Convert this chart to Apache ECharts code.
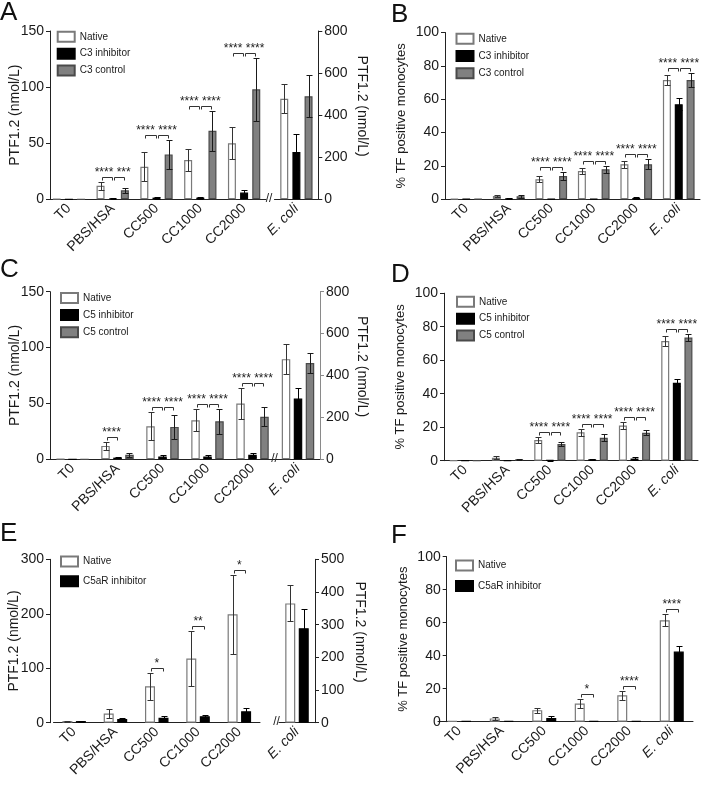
<!DOCTYPE html>
<html><head><meta charset="utf-8">
<script src="https://cdn.jsdelivr.net/npm/echarts@6/dist/echarts.min.js"></script>
<style>html,body{margin:0;padding:0;background:#fff}#c{width:701px;height:800px}</style>
</head><body><div id="c"></div>
<script>
const categories = ['T0', 'PBS/HSA', 'CC500', 'CC1000', 'CC2000', 'E. coli'];

// Panel A – PTF1.2 (nmol/L); the E. coli group is read on the right axis
const aNative   = [0.3, 12, 29, 35, 50, 478];
const aNativeSd = [0, 3.5, 13, 10, 14, 70];
const aInhib    = [0, 1, 1.5, 1.5, 6, 225];
const aInhibSd  = [0, 0.5, 0.8, 0.8, 2.4, 87];
const aCtrl     = [0, 8, 40, 61, 98, 490];
const aCtrlSd   = [0, 2, 13, 18, 28, 100];
const aSig1     = ['', '****', '****', '****', '****', ''];
const aSig2     = ['', '***', '****', '****', '****', ''];
const aLeftTicks  = [0, 50, 100, 150];
const aRightTicks = [0, 200, 400, 600, 800];

// Panel B – % TF positive monocytes
const bNative   = [0.3, 2, 12, 17, 21, 71.5];
const bNativeSd = [0, 0.8, 1.8, 2, 2, 2.8];
const bInhib    = [0.2, 0.5, 0.2, 0.3, 0.8, 57];
const bInhibSd  = [0, 0.3, 0, 0, 0.4, 3.5];
const bCtrl     = [0.2, 1.8, 14, 18, 21, 71.5];
const bCtrlSd   = [0, 1, 2.5, 2, 3, 4];
const bSig1     = ['', '', '****', '****', '****', '****'];
const bSig2     = ['', '', '****', '****', '****', '****'];
const bTicks    = [0, 20, 40, 60, 80, 100];

// Panel C – PTF1.2 (nmol/L); E. coli on the right axis
const cNative   = [0.3, 12, 29.5, 35, 50, 478];
const cNativeSd = [0, 3.5, 12.5, 10, 14, 72];
const cInhib    = [0, 1.5, 2.5, 2.5, 4, 290];
const cInhibSd  = [0, 0.7, 1.2, 1.5, 2, 48];
const cCtrl     = [0, 4, 29, 34, 38, 460];
const cCtrlSd   = [0, 1.5, 10.5, 11, 8.5, 47];
const cSig1     = ['', '****', '****', '****', '****', ''];
const cSig2     = ['', '', '****', '****', '****', ''];
const cLeftTicks  = [0, 50, 100, 150];
const cRightTicks = [0, 200, 400, 600, 800];

// Panel D – % TF positive monocytes
const dNative   = [0.2, 1.8, 12.3, 17, 21, 71.5];
const dNativeSd = [0, 0.8, 1.8, 2, 2, 2.8];
const dInhib    = [0, 0.2, 0.3, 0.8, 1.3, 46.5];
const dInhibSd  = [0, 0, 0.2, 0.4, 0.8, 2];
const dCtrl     = [0, 0.8, 10, 13.7, 16.7, 73.5];
const dCtrlSd   = [0, 0.5, 1.3, 2.2, 1.5, 2];
const dSig1     = ['', '', '****', '****', '****', '****'];
const dSig2     = ['', '', '****', '****', '****', '****'];
const dTicks    = [0, 20, 40, 60, 80, 100];

// Panel E – PTF1.2 (nmol/L); E. coli on the right axis
const eNative   = [3, 17, 67, 118, 199, 365];
const eNativeSd = [0.8, 8, 25, 50, 72, 55];
const eInhib    = [3, 7, 9, 12, 21, 289];
const eInhibSd  = [0.8, 1.5, 3, 3, 6, 59];
const eSig1     = ['', '', '*', '**', '*', ''];
const eLeftTicks  = [0, 100, 200, 300];
const eRightTicks = [0, 100, 200, 300, 400, 500];

// Panel F – % TF positive monocytes
const fNative   = [0.3, 2, 7, 11, 16, 61.5];
const fNativeSd = [0, 0.7, 1.5, 2.5, 2.8, 3.8];
const fInhib    = [0.3, 0.5, 2.3, 0.5, 0.5, 42.5];
const fInhibSd  = [0, 0.2, 1, 0.2, 0.2, 3.5];
const fSig1     = ['', '', '', '*', '****', '****'];
const fTicks    = [0, 20, 40, 60, 80, 100];

const FONT = '"Liberation Sans", Arial, Helvetica, sans-serif';
const TXT = '#1a1a1a';
const STY = {
  native: { color: '#ffffff', borderColor: '#7a7a7a', err: '#333333' },
  inhib:  { color: '#000000', borderColor: '#000000', err: '#000000' },
  ctrl:   { color: '#808080', borderColor: '#4a4a4a', err: '#1a1a1a' }
};

const option = {
  animation: false, backgroundColor: '#ffffff',
  textStyle: { fontFamily: FONT },
  grid: [], xAxis: [], yAxis: [], series: [], legend: [], graphic: []
};

function errRender(off, color) {
  return function (params, api) {
    const k = api.value(0), m = api.value(1), s = api.value(2);
    if (!(s > 0)) return;
    const x = Math.round(api.coord([k, m])[0] + off) + 0.5;
    const yT = Math.round(api.coord([k, m + s])[1]) + 0.5;
    const yB = Math.round(api.coord([k, Math.max(0, m - s)])[1]) + 0.5;
    const st = { stroke: color, lineWidth: 1 };
    return { type: 'group', children: [
      { type: 'line', shape: { x1: x, y1: yT, x2: x, y2: yB }, style: st },
      { type: 'line', shape: { x1: x - 3, y1: yT, x2: x + 3, y2: yT }, style: st },
      { type: 'line', shape: { x1: x - 3, y1: yB, x2: x + 3, y2: yB }, style: st }
    ]};
  };
}

function sigRender(offs, labs) {
  return function (params, api) {
    const k = api.value(0), top = api.value(1);
    const p = api.coord([k, top]);
    const xc = p[0];
    const yb = Math.round(p[1] - 5) + 0.5;
    const lab = labs[params.dataIndex];
    const ch = [];
    lab.forEach(function (t, j) {
      if (!t) return;
      const x1 = Math.round(xc + offs[j]) + 1.5, x2 = Math.round(xc + offs[j + 1]) - 0.5;
      ch.push({ type: 'polyline', shape: { points: [[x1, yb + 3], [x1, yb], [x2, yb], [x2, yb + 3]] },
        style: { stroke: '#333', lineWidth: 1, fill: null } });
    });
    let text, tx;
    if (lab.length > 1 && lab.every(Boolean)) { text = lab.join(' '); tx = xc; }
    else { const j = lab.findIndex(Boolean); text = lab[j]; tx = xc + (offs[j] + offs[j + 1]) / 2; }
    ch.push({ type: 'text', x: tx, y: yb + 1,
      style: { text: text, fill: '#222', font: '12px ' + FONT, align: 'center', verticalAlign: 'bottom' } });
    return { type: 'group', children: ch };
  };
}

function addPanel(P) {
  const parts = P.g2 ? [
    { g: P.g1, cats: [0, 1, 2, 3, 4], ticks: P.leftTicks, pos: 'left', offset: P.yOffset || 0, name: P.leftName, color: '#222', gap: P.leftGap },
    { g: P.g2, cats: [5], ticks: P.rightTicks, pos: 'right', offset: 0, name: P.rightName, color: P.rightColor, gap: P.rightGap }
  ] : [
    { g: P.g1, cats: [0, 1, 2, 3, 4, 5], ticks: P.leftTicks, pos: 'left', offset: P.yOffset || 0, name: P.leftName, color: '#222', gap: P.leftGap }
  ];
  const n = P.series.length;
  const step = P.bw * (1 + P.gap);
  const offs = P.series.map(function (s, i) { return (i - (n - 1) / 2) * step; });
  parts.forEach(function (part) {
    const gi = option.grid.length;
    option.grid.push({ left: part.g.left, top: P.top, width: part.g.width, height: P.height });
    option.xAxis.push({
      type: 'category', gridIndex: gi, data: part.cats.map(function (c) { return categories[c]; }),
      axisLine: { lineStyle: { color: '#222', width: 1 } },
      axisTick: { alignWithLabel: true, interval: 0, length: 4, lineStyle: { color: '#222' } },
      axisLabel: { rotate: 45, margin: 7, interval: 0, fontSize: 14, color: TXT, fontFamily: FONT,
        formatter: function (v) { return v === 'E. coli' ? '{i|E. coli}' : v; },
        rich: { i: { fontStyle: 'italic', fontSize: 14, color: TXT, fontFamily: FONT } } },
      splitLine: { show: false }
    });
    const t = part.ticks;
    const right = part.pos === 'right';
    option.yAxis.push({
      type: 'value', gridIndex: gi, position: part.pos, offset: part.offset,
      min: t[0], max: t[t.length - 1], interval: t[1] - t[0],
      name: part.name, nameLocation: 'middle', nameGap: part.gap, nameRotate: right ? -90 : 90,
      nameMoveOverlap: false,
      nameTextStyle: { fontSize: P.nameSize, color: TXT, fontFamily: FONT, padding: right ? [0, 18, 0, 0] : 0 },
      axisLine: { show: true, lineStyle: { color: part.color, width: 1 } },
      axisTick: { show: true, length: 4, lineStyle: { color: part.color } },
      axisLabel: { fontSize: 14, color: TXT, fontFamily: FONT, margin: 6 },
      splitLine: { show: false }
    });
    P.series.forEach(function (s, i) {
      const st = STY[s.st];
      option.series.push({
        type: 'bar', name: s.name, xAxisIndex: gi, yAxisIndex: gi,
        barWidth: P.bw, barGap: (P.gap * 100) + '%',
        data: part.cats.map(function (c) { return s.v[c]; }),
        itemStyle: { color: st.color, borderColor: st.borderColor, borderWidth: 1.2 },
        emphasis: { disabled: true }, z: 2
      });
      option.series.push({
        type: 'custom', name: '', xAxisIndex: gi, yAxisIndex: gi, z: 4,
        renderItem: errRender(offs[i], st.err),
        data: part.cats.map(function (c, k) { return [k, s.v[c], s.sd[c]]; })
      });
    });
    const sigData = [], sigLabs = [];
    part.cats.forEach(function (c, k) {
      const lab = P.sig.map(function (a) { return a[c]; });
      if (lab.some(Boolean)) {
        sigData.push([k, Math.max.apply(null, P.series.map(function (s) { return s.v[c] + s.sd[c]; }))]);
        sigLabs.push(lab);
      }
    });
    if (sigData.length) {
      option.series.push({ type: 'custom', name: '', xAxisIndex: gi, yAxisIndex: gi, z: 5,
        renderItem: sigRender(offs, sigLabs), data: sigData });
    }
  });
  option.legend.push({
    orient: 'vertical', left: P.legend[0], top: P.legend[1], itemGap: P.legend[2],
    itemWidth: 17, itemHeight: 10, padding: 0, selectedMode: false, icon: 'rect',
    data: P.series.map(function (s) { return s.name; }),
    textStyle: { fontSize: 10, color: TXT, fontFamily: FONT }
  });
  option.graphic.push({ type: 'text', x: P.letter[1], y: P.letter[2],
    style: { text: P.letter[0], font: '26px ' + FONT, fill: '#111', verticalAlign: 'top' } });
  if (P.brk) {
    option.graphic.push({ type: 'text', x: P.brk[0], y: P.brk[1],
      style: { text: '//', font: '12px ' + FONT, fill: '#222', align: 'center', verticalAlign: 'middle' } });
  }
}

addPanel({
  letter: ['A', 0, 0], top: 31, height: 168.3,
  g1: { left: 47, width: 219 }, yOffset: -3, g2: { left: 274.5, width: 43.8 },
  leftTicks: aLeftTicks, rightTicks: aRightTicks, leftName: 'PTF1.2 (nmol/L)', rightName: 'PTF1.2 (nmol/L)',
  rightColor: '#222', leftGap: 28, rightGap: 37, nameSize: 14,
  bw: 8, gap: 0.52,
  series: [{ name: 'Native', st: 'native', v: aNative, sd: aNativeSd },
           { name: 'C3 inhibitor', st: 'inhib', v: aInhib, sd: aInhibSd },
           { name: 'C3 control', st: 'ctrl', v: aCtrl, sd: aCtrlSd }],
  sig: [aSig1, aSig2], legend: [56.7, 30.8, 4.9], brk: [269, 199]
});
addPanel({
  letter: ['B', 391, 2], top: 32.5, height: 166.8,
  g1: { left: 445, width: 255 },
  leftTicks: bTicks, leftName: '% TF positive monocytes', leftGap: 37, nameSize: 13,
  bw: 8, gap: 0.48,
  series: [{ name: 'Native', st: 'native', v: bNative, sd: bNativeSd },
           { name: 'C3 inhibitor', st: 'inhib', v: bInhib, sd: bInhibSd },
           { name: 'C3 control', st: 'ctrl', v: bCtrl, sd: bCtrlSd }],
  sig: [bSig1, bSig2], legend: [455.5, 32.8, 5.2]
});
addPanel({
  letter: ['C', 0, 257], top: 291.7, height: 167.6,
  g1: { left: 50, width: 225 }, g2: { left: 276, width: 44 },
  leftTicks: cLeftTicks, rightTicks: cRightTicks, leftName: 'PTF1.2 (nmol/L)', rightName: 'PTF1.2 (nmol/L)',
  rightColor: '#8a8a8a', leftGap: 28, rightGap: 35, nameSize: 14,
  bw: 8.5, gap: 0.41,
  series: [{ name: 'Native', st: 'native', v: cNative, sd: cNativeSd },
           { name: 'C5 inhibitor', st: 'inhib', v: cInhib, sd: cInhibSd },
           { name: 'C5 control', st: 'ctrl', v: cCtrl, sd: cCtrlSd }],
  sig: [cSig1, cSig2], legend: [60, 291.9, 5.2], brk: [274.5, 459]
});
addPanel({
  letter: ['D', 391, 262], top: 293.2, height: 167.5,
  g1: { left: 444, width: 254 },
  leftTicks: dTicks, leftName: '% TF positive monocytes', leftGap: 37, nameSize: 13,
  bw: 8, gap: 0.45,
  series: [{ name: 'Native', st: 'native', v: dNative, sd: dNativeSd },
           { name: 'C5 inhibitor', st: 'inhib', v: dInhib, sd: dInhibSd },
           { name: 'C5 control', st: 'ctrl', v: dCtrl, sd: dCtrlSd }],
  sig: [dSig1, dSig2], legend: [456, 295.8, 4.9]
});
addPanel({
  letter: ['E', 0, 521], top: 559.3, height: 163.4,
  g1: { left: 53.5, width: 206.5 }, yOffset: 3.5, g2: { left: 279, width: 36 },
  leftTicks: eLeftTicks, rightTicks: eRightTicks, leftName: 'PTF1.2 (nmol/L)', rightName: 'PTF1.2 (nmol/L)',
  rightColor: '#222', leftGap: 29, rightGap: 38, nameSize: 14,
  bw: 10, gap: 0.35,
  series: [{ name: 'Native', st: 'native', v: eNative, sd: eNativeSd },
           { name: 'C5aR inhibitor', st: 'inhib', v: eInhib, sd: eInhibSd }],
  sig: [eSig1], legend: [60, 555.4, 7.9], brk: [276.5, 722]
});
addPanel({
  letter: ['F', 391, 523], top: 556.7, height: 165,
  g1: { left: 438, width: 255 }, yOffset: -8.7,
  leftTicks: fTicks, leftName: '% TF positive monocytes', leftGap: 37, nameSize: 13,
  bw: 10, gap: 0.4,
  series: [{ name: 'Native', st: 'native', v: fNative, sd: fNativeSd },
           { name: 'C5aR inhibitor', st: 'inhib', v: fInhib, sd: fInhibSd }],
  sig: [fSig1], legend: [455, 559.4, 8.6]
});

const chart = echarts.init(document.getElementById('c'), null, { renderer: 'canvas' });
chart.setOption(option);
</script>
</body></html>
